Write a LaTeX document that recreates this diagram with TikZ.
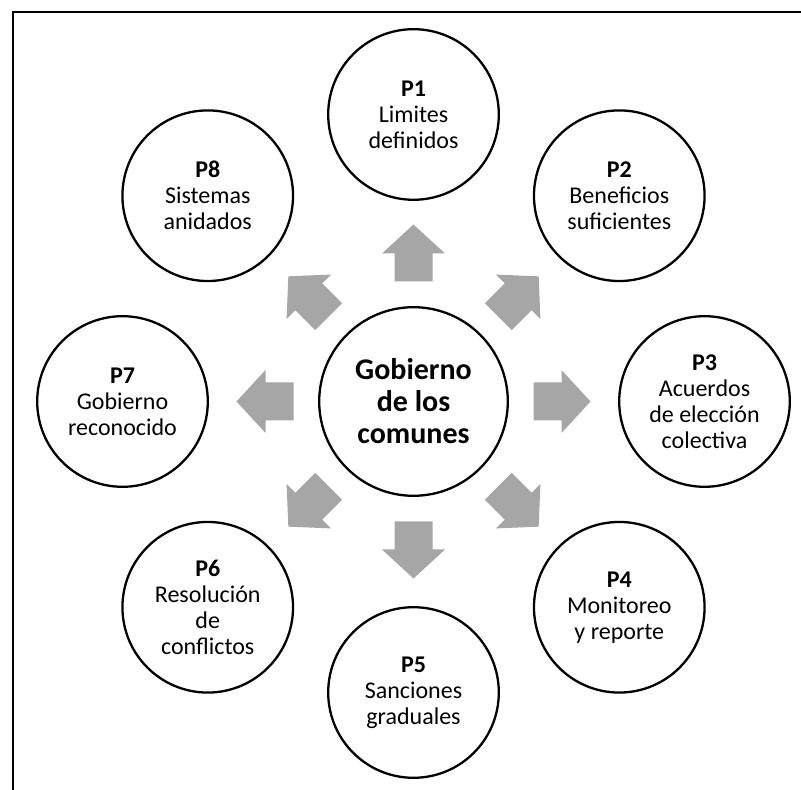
\documentclass[tikz,border=0pt]{standalone}
\usepackage{fontspec}
\setmainfont{Carlito}
\usetikzlibrary{calc}
\definecolor{grisflecha}{RGB}{166,166,166}

\begin{document}
\begin{tikzpicture}[x=0.5pt,y=0.5pt,
			principio/.style={
				draw,
				circle,
				line width=1.15pt,
				minimum size=85.3pt,
				inner sep=0pt,
				align=center,
				font=\fontsize{12pt}{13pt}\selectfont
			},
			nucleo/.style={
				principio,
				minimum size=94.3pt,
				font=\fontsize{15pt}{16pt}\selectfont\bfseries
			},
			flecha/.style={fill=grisflecha}]
			
			\useasboundingbox (0,0) rectangle (801,790);
			
			% marco
			\draw[line width=1.15pt] (806,778.3)--(13,778.3)--(13,-5);
			
			\node (gob)[nucleo] at (413.5,388.5){Gobierno\\de los\\comunes};
			
			\node (p1)[principio] at ($(gob)+(90:287)$){\textbf{P1}\\Limites\\definidos};
			
			\node (p2)[principio] at ($(gob)+(45:291)$){\textbf{P2}\\Beneficios\\suficientes};
			
			\node (p3)[principio] at ($(gob)+(0:291)$){\textbf{P3}\\Acuerdos\\de elección\\colectiva};
			
			\node (p4)[principio] at ($(gob)+(-45:291)$){\textbf{P4}\\Monitoreo\\y reporte};
			
			\node (p5)[principio] at ($(gob)+(-90:291)$){\textbf{P5}\\Sanciones\\graduales};
			
			\node (p6)[principio] at ($(gob)+(-135:291)$){\textbf{P6}\\Resolución\\de\\conflictos};
			
			\node (p7)[principio] at ($(gob)+(180:291)$){\textbf{P7}\\Gobierno\\reconocido};
			
			\node (p8)[principio] at ($(gob)+(135:291)$){\textbf{P8}\\Sistemas\\anidados};
			
			% flechas de bloque hacia cada principio
			\foreach \a in {90,45,0,-45,-90,-135,180,135}
			\fill[flecha,shift={(gob.center)},rotate=\a]
			(120,-19)--(148,-19)--(148,-31.5)--(177,0)--(148,31.5)--(148,19)--(120,19)--cycle;
			
		\end{tikzpicture}
\end{document}
